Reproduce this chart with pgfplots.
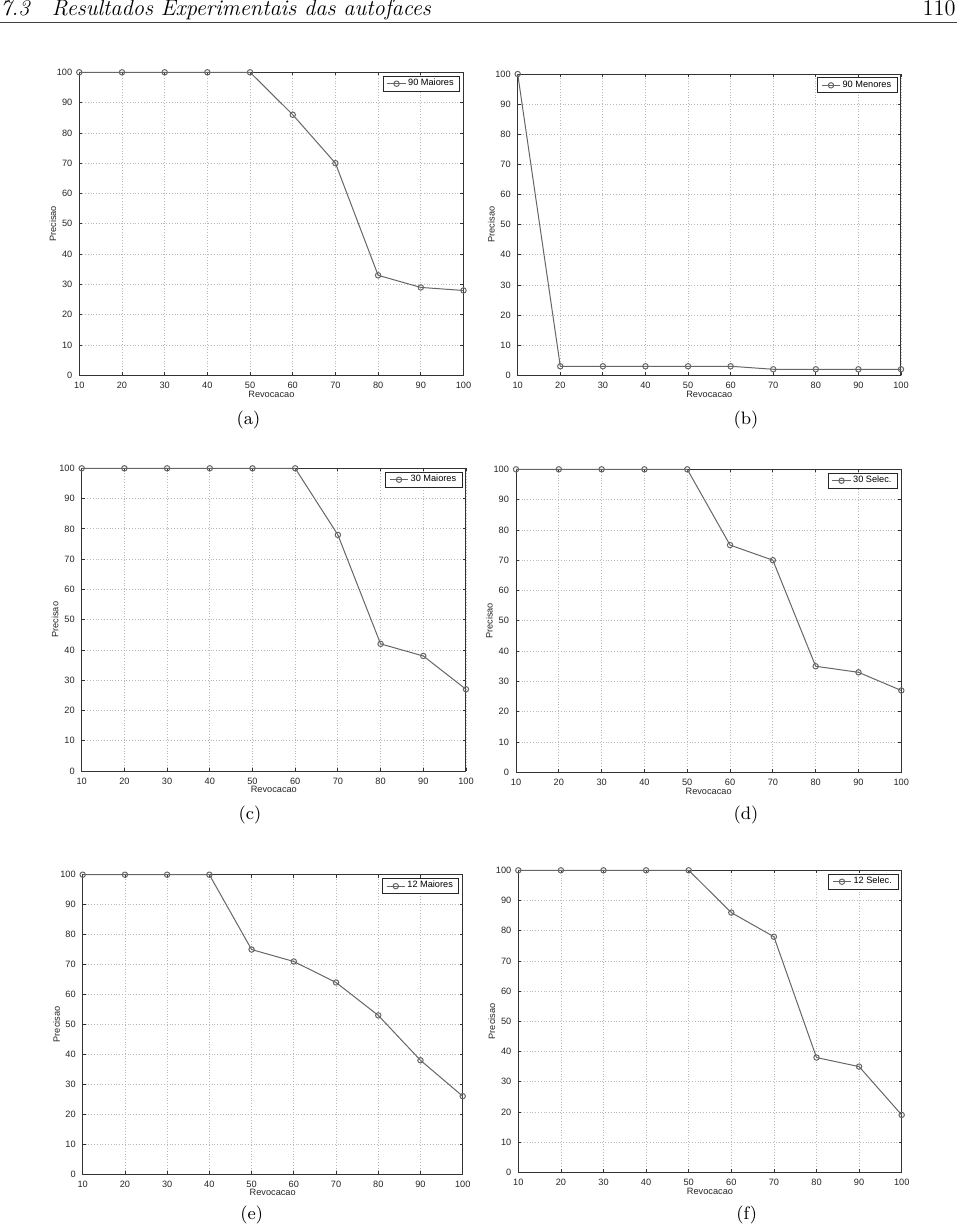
\documentclass[border=0pt]{standalone}
\usepackage{fontspec}
\usepackage{pgfplots}
\pgfplotsset{compat=1.18}
\newfontfamily\arial{Liberation Sans}
\newcommand{\lblfont}{\arial\fontsize{4.6}{5}\selectfont}
\pgfplotsset{
  mline/.style={color=black!60, line width=0.5pt, mark=o, mark size=1.35pt, mark options={solid, draw=black!60, fill=none}},
  mplot/.style={
    scale only axis, clip=false,
    xmin=10, xmax=100, ymin=0, ymax=100,
    xtick={10,20,...,100}, ytick={0,10,...,100},
    grid=major,
    grid style={densely dotted, gray!55, line width=0.4pt},
    axis line style={black!80, line width=0.5pt},
    tick style={black!80, line width=0.4pt},
    tick align=inside, major tick length=1.5pt,
    ticklabel style={font=\arial\fontsize{4.6}{5}\selectfont, text=black!85},
    /pgf/number format/assume math mode=true,
    xlabel={Revocacao}, ylabel={Precisao},
    every axis x label/.style={at={(axis description cs:0.5,-0.0617)}, anchor=center, font=\lblfont, text=black!85},
    every axis y label/.style={at={(axis description cs:-0.069,0.5)}, anchor=center, rotate=90, font=\lblfont, text=black!85},
    legend style={at={(1,1)}, anchor=north east, xshift=-1.7pt, yshift=-1.7pt,
      draw=black!85, line width=0.4pt, font=\lblfont,
      inner xsep=2pt, inner ysep=0.4pt, nodes={inner sep=1pt}},
    legend cell align=left,
    legend image code/.code={\draw[mark repeat=2,mark phase=2] plot coordinates {(0cm,0cm)(0.16cm,0cm)(0.32cm,0cm)};},
  }
}
\begin{document}
\begin{tikzpicture}
\useasboundingbox (0,0) rectangle (480pt,-613pt);
\node[anchor=base west, inner sep=0pt] at (0pt,-7.6pt) {\fontsize{11.2}{13}\selectfont\itshape 7.3\quad Resultados Experimentais das autofaces};
\node[anchor=base east, inner sep=0pt] at (478pt,-7.6pt) {\fontsize{11.2}{13}\selectfont 110};
\draw[line width=0.5pt, black!75] (0pt,-11.35pt) -- (478.5pt,-11.35pt);

% (a)
\begin{axis}[mplot, anchor=south west, at={(39.65pt,-187.65pt)}, width=192.1pt, height=151.5pt]
\addplot[mline] coordinates {(10,100)(20,100)(30,100)(40,100)(50,100)(60,86)(70,70)(80,33)(90,29)(100,28)};
\addlegendentry{90 Maiores}
\end{axis}
\node at (124.25pt,-210pt) {\fontsize{9}{11}\selectfont (a)};

% (b)
\begin{axis}[mplot, anchor=south west, at={(258.85pt,-187.65pt)}, width=191.65pt, height=150.65pt]
\addplot[mline] coordinates {(10,100)(20,3)(30,3)(40,3)(50,3)(60,3)(70,2)(80,2)(90,2)(100,2)};
\addlegendentry{90 Menores}
\end{axis}
\node at (373pt,-210pt) {\fontsize{9}{11}\selectfont (b)};

% (c)
\begin{axis}[mplot, anchor=south west, at={(40.85pt,-385.5pt)}, width=192.15pt, height=151.35pt]
\addplot[mline] coordinates {(10,100)(20,100)(30,100)(40,100)(50,100)(60,100)(70,78)(80,42)(90,38)(100,27)};
\addlegendentry{30 Maiores}
\end{axis}
\node at (125pt,-407.5pt) {\fontsize{9}{11}\selectfont (c)};

% (d)
\begin{axis}[mplot, anchor=south west, at={(258pt,-386.15pt)}, width=192.65pt, height=151.5pt]
\addplot[mline] coordinates {(10,100)(20,100)(30,100)(40,100)(50,100)(60,75)(70,70)(80,35)(90,33)(100,27)};
\addlegendentry{30 Selec.}
\end{axis}
\node at (373pt,-407.5pt) {\fontsize{9}{11}\selectfont (d)};

% (e)
\begin{axis}[mplot, anchor=south west, at={(41.35pt,-587pt)}, width=190pt, height=149.65pt]
\addplot[mline] coordinates {(10,100)(20,100)(30,100)(40,100)(50,75)(60,71)(70,64)(80,53)(90,38)(100,26)};
\addlegendentry{12 Maiores}
\end{axis}
\node at (125.85pt,-607.5pt) {\fontsize{9}{11}\selectfont (e)};

% (f)
\begin{axis}[mplot, anchor=south west, at={(259.15pt,-586.15pt)}, width=191.7pt, height=151pt]
\addplot[mline] coordinates {(10,100)(20,100)(30,100)(40,100)(50,100)(60,86)(70,78)(80,38)(90,35)(100,19)};
\addlegendentry{12 Selec.}
\end{axis}
\node at (373.35pt,-607.5pt) {\fontsize{9}{11}\selectfont (f)};
\end{tikzpicture}
\end{document}
